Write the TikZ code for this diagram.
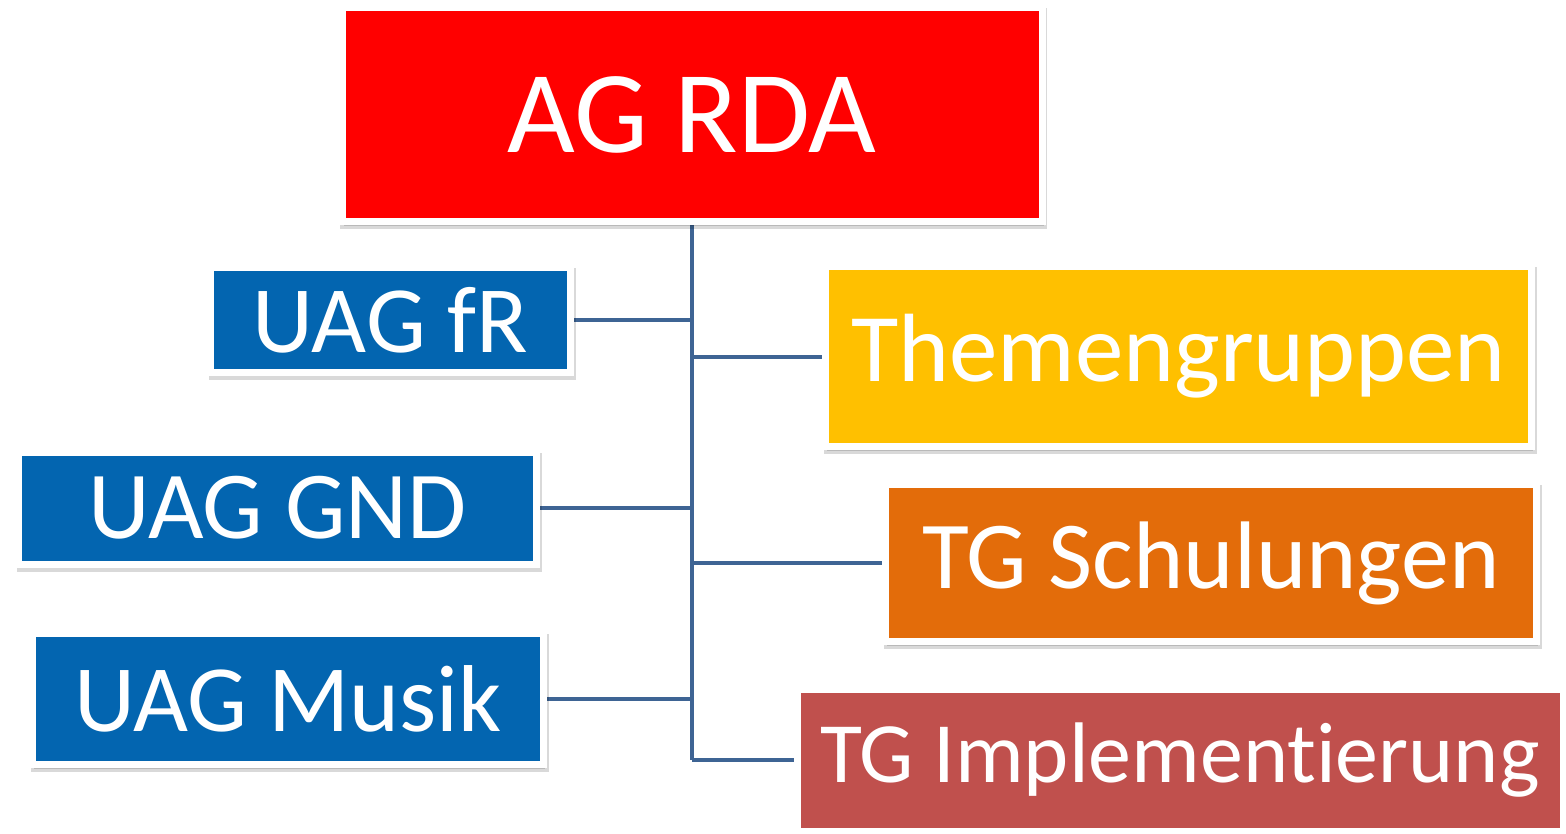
\documentclass[tikz,border=0pt]{standalone}
\usepackage{fontspec}
\setmainfont{Carlito}[Ligatures=NoCommon]
\usepackage{tikz}
\usetikzlibrary{shapes,shadows,backgrounds}
\definecolor{agred}{RGB}{255,0,0}
\definecolor{uagblue}{RGB}{3,101,176}
\definecolor{tgyellow}{RGB}{255,192,0}
\definecolor{tgorange}{RGB}{227,108,10}
\definecolor{tgbrick}{RGB}{192,80,77}
\definecolor{linkblue}{RGB}{62,100,148}

\tikzset{
	box/.style={draw=white, line width=7pt, text=white, inner sep=0pt,
		general shadow={fill=black, draw=black, line width=7pt, opacity=0.15,
			shadow xshift=1.5pt, shadow yshift=-4pt}},
	link/.style={linkblue, line width=4pt}
}

\begin{document}
\begin{tikzpicture}[x=1pt,y=-1pt]
	%Canvas of the chart
	\useasboundingbox (0,0) rectangle (1566,834);
	\pgfmathsetmacro{\tx}{692}

	%The head box
	\node[box, fill=agred, minimum width=700pt, minimum height=214pt] (rda) at (\tx,115) {\fontsize{117}{122}\selectfont AG RDA};

	%Left column: UAG
	\node[box, fill=uagblue, minimum width=360pt, minimum height=104pt] (fr) at (390.5,320) {\fontsize{95}{100}\selectfont UAG fR};
	\node[box, fill=uagblue, minimum width=518pt, minimum height=112pt] (gnd) at (277.5,508) {\fontsize{96}{100}\selectfont UAG GND};
	\node[box, fill=uagblue, minimum width=511pt, minimum height=131pt] (musik) at (288,699) {\fontsize{95}{100}\selectfont UAG Musik};

	%Right column: TG
	\node[box, fill=tgyellow, minimum width=706pt, minimum height=180pt] (themen) at (1178.5,356.5) {\fontsize{97}{104}\selectfont Themengruppen};
	\node[box, fill=tgorange, minimum width=651pt, minimum height=157pt] (schul) at (1211,563) {\fontsize{96}{100}\selectfont TG Schulungen};
	\node[box, fill=tgbrick, minimum width=766pt, minimum height=142pt] (impl) at (1180,760) {\fontsize{86}{90}\selectfont TG Implementierung};

	%Connectors
	\begin{scope}[on background layer]
	\draw[link] (rda.south) -- (rda.south |- impl.west);
	\draw[link] (fr.east) -- (fr.east -| rda.south);
	\draw[link] (gnd.east) -- (gnd.east -| rda.south);
	\draw[link] (musik.east) -- (musik.east -| rda.south);
	\draw[link] (themen.west) -- (themen.west -| rda.south);
	\draw[link] (schul.west) -- (schul.west -| rda.south);
	\draw[link] (impl.west) -- (impl.west -| rda.south);
	\end{scope}
\end{tikzpicture}
\end{document}
